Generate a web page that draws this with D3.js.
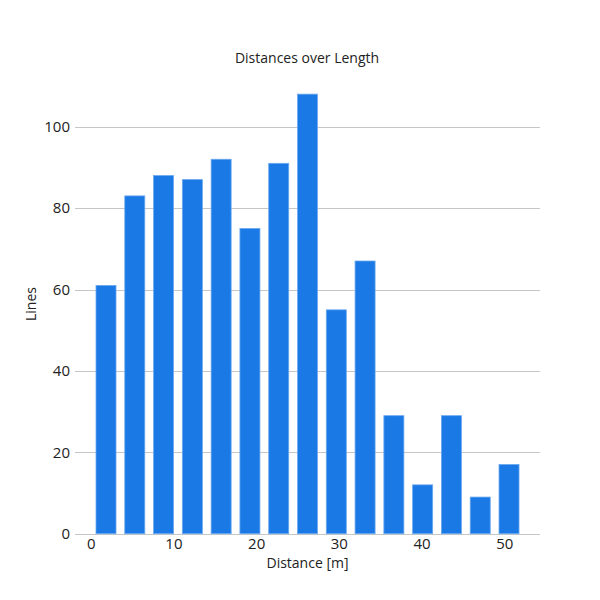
<!DOCTYPE html>
<html>
<head>
<meta charset="utf-8">
<script src="https://cdn.jsdelivr.net/npm/d3@7"></script>
<style>
  html, body { margin: 0; padding: 0; background: #fff; }
  svg { display: block; font-family: "Open Sans", "Noto Sans", sans-serif; }
</style>
</head>
<body>
<svg id="chart" width="600" height="600"></svg>
<script>
// Data
const binCenters = [1.85, 5.33, 8.81, 12.29, 15.77, 19.25, 22.73, 26.21, 29.69, 33.17, 36.65, 40.13, 43.61, 47.09, 50.57];
const lineCounts = [61, 83, 88, 87, 92, 75, 91, 108, 55, 67, 29, 12, 29, 9, 17];
const xTicks = [0, 10, 20, 30, 40, 50];
const yTicks = [0, 20, 40, 60, 80, 100];
const title = "Distances over Length";
const xTitle = "Distance [m]";
const yTitle = "Lines";

const svg = d3.select("#chart");
const plotLeft = 75, plotRight = 540;

const x = d3.scaleLinear().domain([0, 50]).range([90.7, 504.3]);
const y = d3.scaleLinear().domain([0, 100]).range([533.7, 126.7]);
const binWidth = 3.48;
const barW = x(binWidth * 0.695) - x(0);

// gridlines
svg.append("g").selectAll("line")
  .data(yTicks)
  .join("line")
  .attr("x1", plotLeft).attr("x2", plotRight)
  .attr("y1", d => Math.round(y(d)) + 0.5)
  .attr("y2", d => Math.round(y(d)) + 0.5)
  .attr("stroke", "#c6c6c6")
  .attr("stroke-width", 1);

// bars
svg.append("g").selectAll("rect")
  .data(lineCounts)
  .join("rect")
  .attr("x", (d, i) => x(binCenters[i]) - barW / 2)
  .attr("width", barW)
  .attr("y", d => y(d))
  .attr("height", d => y(0) - y(d))
  .attr("fill", "#1a79e5")
  .attr("stroke", "#6aa8f0")
  .attr("stroke-width", 0.8);

// y axis labels
const yAxis = d3.axisLeft(y).tickValues(yTicks).tickSize(0).tickPadding(0);
const gy = svg.append("g").attr("transform", "translate(70,0)").call(yAxis);
gy.select(".domain").remove();
gy.selectAll("text").attr("font-size", 15).attr("fill", "#222").attr("font-family", "\"Open Sans\", sans-serif");

// x axis labels
const xAxis = d3.axisBottom(x).tickValues(xTicks).tickSize(0).tickPadding(0);
const gx = svg.append("g").attr("transform", "translate(0,538)").call(xAxis);
gx.select(".domain").remove();
gx.selectAll("text").attr("font-size", 15).attr("fill", "#222").attr("font-family", "\"Open Sans\", sans-serif");

// titles
svg.append("text")
  .attr("x", 307).attr("y", 63)
  .attr("text-anchor", "middle")
  .attr("font-size", 14)
  .attr("fill", "#222")
  .text(title);

svg.append("text")
  .attr("x", 307.5).attr("y", 568)
  .attr("text-anchor", "middle")
  .attr("font-size", 14)
  .attr("fill", "#222")
  .text(xTitle);

svg.append("text")
  .attr("transform", "translate(36,304) rotate(-90)")
  .attr("text-anchor", "middle")
  .attr("font-size", 14)
  .attr("fill", "#222")
  .text(yTitle);
</script>
</body>
</html>
